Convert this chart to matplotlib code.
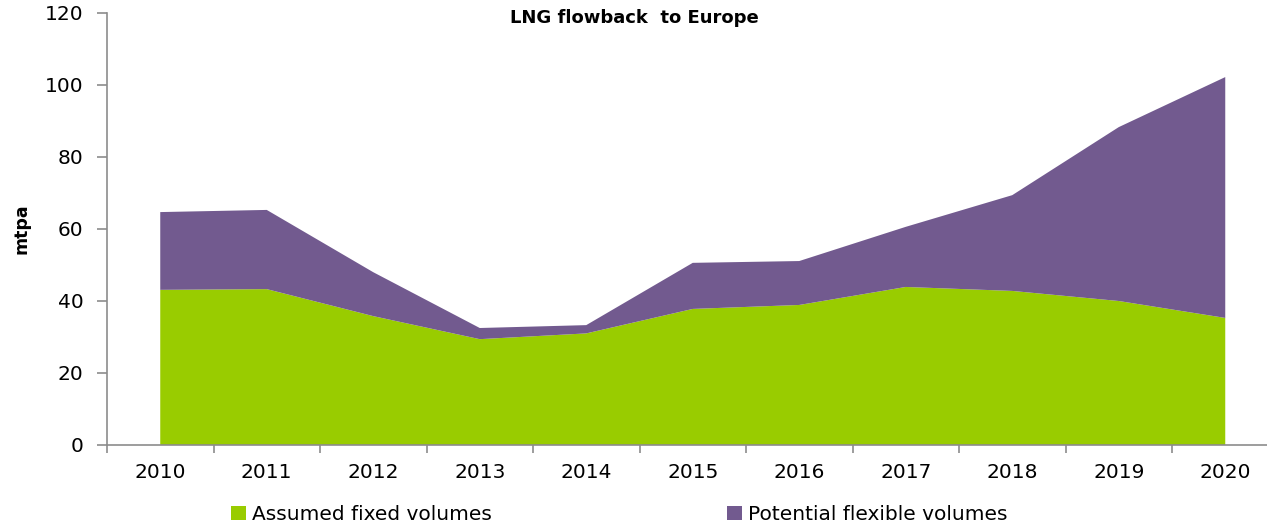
import matplotlib
matplotlib.use("Agg")
import matplotlib.pyplot as plt
from matplotlib.patches import Patch

years = ["2010", "2011", "2012", "2013", "2014", "2015", "2016", "2017", "2018", "2019", "2020"]
fixed = [43.1, 43.3, 35.8, 29.4, 31.0, 37.8, 38.9, 43.9, 42.8, 40.0, 35.3]
total = [64.7, 65.3, 48.0, 32.5, 33.3, 50.6, 51.1, 60.6, 69.4, 88.3, 102.2]
flexible = [t - f for t, f in zip(total, fixed)]

green = "#99CC00"
purple = "#725A8F"
axis_grey = "#8C8C8C"

fig = plt.figure(figsize=(12.67, 5.25), dpi=100)
ax = fig.add_axes([107 / 1267, 80 / 525, 11 * 106.5 / 1267, 432 / 525])

x = list(range(len(years)))
ax.stackplot(x, fixed, flexible, colors=[green, purple], linewidth=0)

ax.set_xlim(-0.5, len(years) - 0.5)
ax.set_ylim(0, 120)
ax.set_yticks(range(0, 121, 20))
ax.set_xticks(x)
ax.set_xticklabels(years)
ax.set_xticks([i - 0.5 for i in range(len(years) + 1)], minor=True)

for s in ["top", "right"]:
    ax.spines[s].set_visible(False)
for s in ["left", "bottom"]:
    ax.spines[s].set_color(axis_grey)
    ax.spines[s].set_linewidth(1.2)

ax.tick_params(axis="x", which="major", length=0, labelsize=14.5, pad=13, labelcolor="black")
ax.tick_params(axis="x", which="minor", length=6, color=axis_grey, width=1.2)
ax.tick_params(axis="y", length=7, color=axis_grey, width=1.2, labelsize=14.5, pad=10)

ax.set_ylabel("mtpa", fontsize=12.5, fontweight="bold", labelpad=10)
fig.text(0.501, 0.965, "LNG flowback  to Europe", ha="center", va="center",
         fontsize=13, fontweight="bold")

handles = [Patch(facecolor=green, edgecolor="none", label="Assumed fixed volumes"),
           Patch(facecolor=purple, edgecolor="none", label="Potential flexible volumes")]
fig.legend(handles=handles, loc="center left", bbox_to_anchor=(213 / 1267, 0.02), ncol=2,
           frameon=False, fontsize=14.5, handlelength=0.75, handleheight=0.75,
           handletextpad=0.3, columnspacing=11.65)

fig.savefig("out.png", dpi=100)
